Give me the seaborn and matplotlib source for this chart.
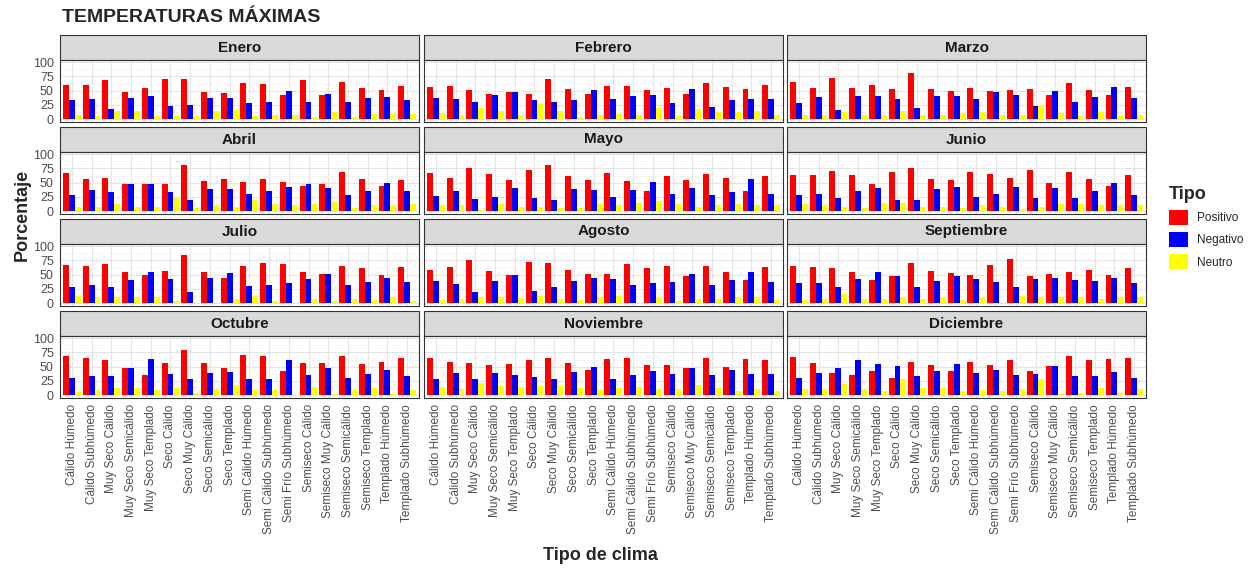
import numpy as np
import pandas as pd
import matplotlib
matplotlib.use("Agg")
import matplotlib.pyplot as plt
from matplotlib.patches import Rectangle, Patch
import seaborn as sns

# Categorías
meses = ["Enero", "Febrero", "Marzo", "Abril", "Mayo", "Junio",
         "Julio", "Agosto", "Septiembre", "Octubre", "Noviembre", "Diciembre"]
climas = ["Cálido Húmedo", "Cálido Subhúmedo", "Muy Seco Cálido", "Muy Seco Semicálido",
          "Muy Seco Templado", "Seco Cálido", "Seco Muy Cálido", "Seco Semicálido",
          "Seco Templado", "Semi Cálido Húmedo", "Semi Cálido Subhúmedo", "Semi Frío Subhúmedo",
          "Semiseco Cálido", "Semiseco Muy Cálido", "Semiseco Semicálido", "Semiseco Templado",
          "Templado Húmedo", "Templado Subhúmedo"]
tipos = ["Positivo", "Negativo", "Neutro"]

# Porcentajes por mes (filas) y tipo de clima (columnas)
positivo = [
    [60, 60, 68, 48, 54, 71, 70, 48, 46, 64, 62, 43, 68, 42, 66, 54, 52, 58],
    [56, 58, 51, 45, 47, 45, 70, 53, 45, 58, 58, 51, 54, 45, 64, 56, 53, 60],
    [66, 54, 72, 54, 60, 53, 81, 53, 49, 54, 49, 51, 53, 43, 64, 51, 43, 56],
    [67, 56, 58, 47, 47, 47, 82, 53, 56, 51, 56, 51, 45, 47, 69, 56, 45, 54],
    [67, 59, 76, 65, 55, 73, 82, 61, 55, 67, 53, 35, 61, 55, 65, 59, 35, 61],
    [63, 63, 71, 63, 47, 69, 76, 57, 55, 69, 65, 59, 73, 49, 69, 57, 45, 63],
    [67, 65, 68, 55, 49, 57, 84, 55, 45, 65, 71, 68, 55, 51, 65, 61, 49, 63],
    [59, 63, 75, 57, 49, 73, 71, 59, 51, 51, 69, 61, 65, 47, 65, 55, 41, 63],
    [65, 63, 61, 55, 41, 47, 71, 57, 53, 49, 67, 77, 47, 51, 55, 59, 49, 61],
    [68, 65, 61, 47, 35, 57, 79, 57, 47, 71, 68, 43, 57, 57, 68, 55, 59, 65],
    [65, 59, 57, 53, 55, 61, 65, 57, 45, 63, 65, 53, 53, 47, 65, 49, 63, 61],
    [67, 57, 39, 35, 43, 31, 59, 53, 43, 59, 53, 61, 43, 51, 68, 61, 63, 65],
]
negativo = [
    [33, 35, 17, 37, 41, 23, 25, 37, 37, 29, 31, 50, 30, 44, 31, 37, 39, 33],
    [37, 35, 31, 43, 47, 33, 31, 33, 51, 35, 41, 43, 28, 53, 22, 33, 35, 35],
    [29, 39, 16, 41, 41, 35, 20, 41, 41, 35, 47, 43, 24, 49, 31, 39, 56, 37],
    [29, 37, 33, 47, 47, 33, 20, 39, 39, 31, 35, 43, 47, 41, 29, 35, 49, 35],
    [27, 35, 22, 25, 41, 24, 20, 39, 37, 25, 37, 51, 31, 41, 29, 33, 57, 31],
    [29, 31, 24, 35, 41, 20, 20, 39, 43, 25, 31, 43, 24, 41, 24, 35, 49, 29],
    [28, 32, 28, 41, 55, 43, 20, 45, 53, 30, 32, 36, 43, 51, 32, 37, 45, 37],
    [39, 33, 20, 39, 49, 22, 28, 39, 45, 43, 32, 36, 37, 51, 32, 41, 55, 37],
    [36, 36, 28, 43, 55, 47, 28, 39, 47, 43, 37, 28, 43, 45, 41, 39, 45, 36],
    [30, 33, 33, 47, 63, 37, 28, 39, 41, 29, 29, 61, 35, 47, 30, 37, 45, 33],
    [28, 39, 28, 39, 35, 32, 28, 41, 49, 29, 35, 43, 37, 47, 35, 45, 37, 37],
    [31, 39, 47, 61, 55, 51, 33, 43, 55, 39, 45, 35, 37, 51, 33, 33, 41, 31],
]
neutro = [
    [8, 5, 15, 14, 6, 6, 5, 15, 16, 6, 7, 7, 3, 13, 3, 9, 9, 9],
    [10, 8, 19, 15, 7, 26, 15, 4, 8, 9, 8, 19, 5, 17, 13, 13, 15, 7],
    [7, 8, 13, 7, 7, 15, 7, 8, 10, 13, 8, 8, 24, 10, 6, 13, 6, 8],
    [8, 8, 12, 8, 8, 24, 6, 11, 7, 19, 13, 11, 12, 16, 5, 11, 11, 12],
    [11, 11, 2, 13, 8, 8, 6, 6, 13, 11, 14, 18, 13, 7, 11, 13, 11, 11],
    [13, 11, 8, 6, 14, 14, 8, 8, 5, 11, 8, 3, 8, 13, 13, 11, 10, 11],
    [12, 10, 10, 10, 10, 3, 1, 1, 7, 12, 3, 1, 7, 3, 8, 6, 10, 3],
    [6, 8, 10, 10, 9, 12, 8, 5, 10, 12, 1, 10, 3, 8, 8, 10, 10, 5],
    [6, 8, 16, 8, 8, 11, 8, 10, 5, 11, 1, 13, 11, 10, 10, 8, 10, 10],
    [6, 9, 13, 12, 9, 13, 3, 10, 17, 9, 9, 1, 15, 2, 9, 13, 2, 9],
    [14, 10, 22, 16, 15, 16, 16, 13, 9, 13, 14, 10, 10, 18, 12, 7, 10, 7],
    [10, 10, 20, 10, 8, 28, 13, 12, 8, 9, 8, 10, 28, 2, 3, 13, 3, 10],
]

filas = []
for i, mes in enumerate(meses):
    for j, clima in enumerate(climas):
        filas.append((mes, clima, "Positivo", positivo[i][j]))
        filas.append((mes, clima, "Negativo", negativo[i][j]))
        filas.append((mes, clima, "Neutro", neutro[i][j]))
df = pd.DataFrame(filas, columns=["Mes", "Clima", "Tipo", "Porcentaje"])

colores = {"Positivo": "#FF0000", "Negativo": "#0000FF", "Neutro": "#FFFF00"}

sns.set_style("white")
plt.rcParams["font.family"] = ["Liberation Sans", "DejaVu Sans"]

g = sns.catplot(data=df, x="Clima", y="Porcentaje", hue="Tipo", col="Mes",
                col_wrap=3, col_order=meses, order=climas, hue_order=tipos,
                kind="bar", palette=colores, width=0.9, saturation=1,
                legend=False, errorbar=None, height=2, aspect=2,
                linewidth=0, edgecolor="none")
fig = g.figure
fig.set_size_inches(12.5, 5.69)

W, H = 1250, 569
lefts = [60, 424, 787]
tops = [60, 152, 244, 336]
aw, ah, strip_h = 359, 62, 25

for k, mes in enumerate(meses):
    ax = g.axes_dict[mes]
    r, c = divmod(k, 3)
    ax.set_position([lefts[c] / W, 1 - (tops[r] + ah) / H, aw / W, ah / H])
    ax.set_ylim(-5, 104)
    ax.set_xlim(-0.6, len(climas) - 0.4)
    ax.set_yticks([0, 25, 50, 75, 100])
    ax.set_yticks([12.5, 37.5, 62.5, 87.5], minor=True)
    ax.set_xticks(range(len(climas)))
    ax.grid(True, which="major", color="#E5E5E5", linewidth=0.8)
    ax.grid(True, which="minor", axis="y", color="#F2F2F2", linewidth=0.5)
    ax.set_axisbelow(True)
    for s in ax.spines.values():
        s.set_color("#333333")
        s.set_linewidth(0.8)
        s.set_visible(True)
    ax.set_xlabel("")
    ax.set_ylabel("")
    ax.set_title("")
    ax.tick_params(axis="both", which="major", length=3, color="#333333",
                   labelsize=9, labelcolor="#4D4D4D", pad=1.5)
    ax.tick_params(axis="y", which="minor", length=0)
    if r == 3:
        ax.set_xticklabels(climas, rotation=90, ha="center", va="top",
                           fontsize=8.5)
        ax.tick_params(axis="x", labelbottom=True)
    else:
        ax.tick_params(axis="x", labelbottom=False)
    ax.tick_params(axis="y", labelleft=(c == 0))
    if c != 0:
        ax.tick_params(axis="y", length=0)
    # Tira del panel
    ax.add_patch(Rectangle((0, 1), 1, strip_h / ah, transform=ax.transAxes,
                           facecolor="#D9D9D9", edgecolor="#333333",
                           linewidth=0.8, clip_on=False))
    ax.text(0.5, 1 + strip_h / ah / 2, mes, transform=ax.transAxes,
            ha="center", va="center", fontsize=11, fontweight="bold",
            color="#1A1A1A")

fig.text(62 / W, 1 - 18 / H, "TEMPERATURAS MÁXIMAS", ha="left", va="center",
         fontsize=14, fontweight="bold")
fig.text(22 / W, 1 - 215 / H, "Porcentaje", rotation=90, ha="center",
         va="center", fontsize=13, fontweight="bold")
fig.text(600 / W, 1 - 555 / H, "Tipo de clima", ha="center", va="center",
         fontsize=13, fontweight="bold")

handles = [Patch(facecolor=colores[t], edgecolor="none", label=t) for t in tipos]
leg = fig.legend(handles=handles, title="Tipo", loc="upper left",
                 bbox_to_anchor=(1158 / W, 1 - 175 / H), frameon=False,
                 fontsize=8.5, handlelength=1.6, handleheight=1.6,
                 labelspacing=0.6, handletextpad=0.8)
leg.get_title().set_fontweight("bold")
leg.get_title().set_fontsize(13)
leg._legend_box.align = "left"

fig.savefig("out.png", dpi=100)
